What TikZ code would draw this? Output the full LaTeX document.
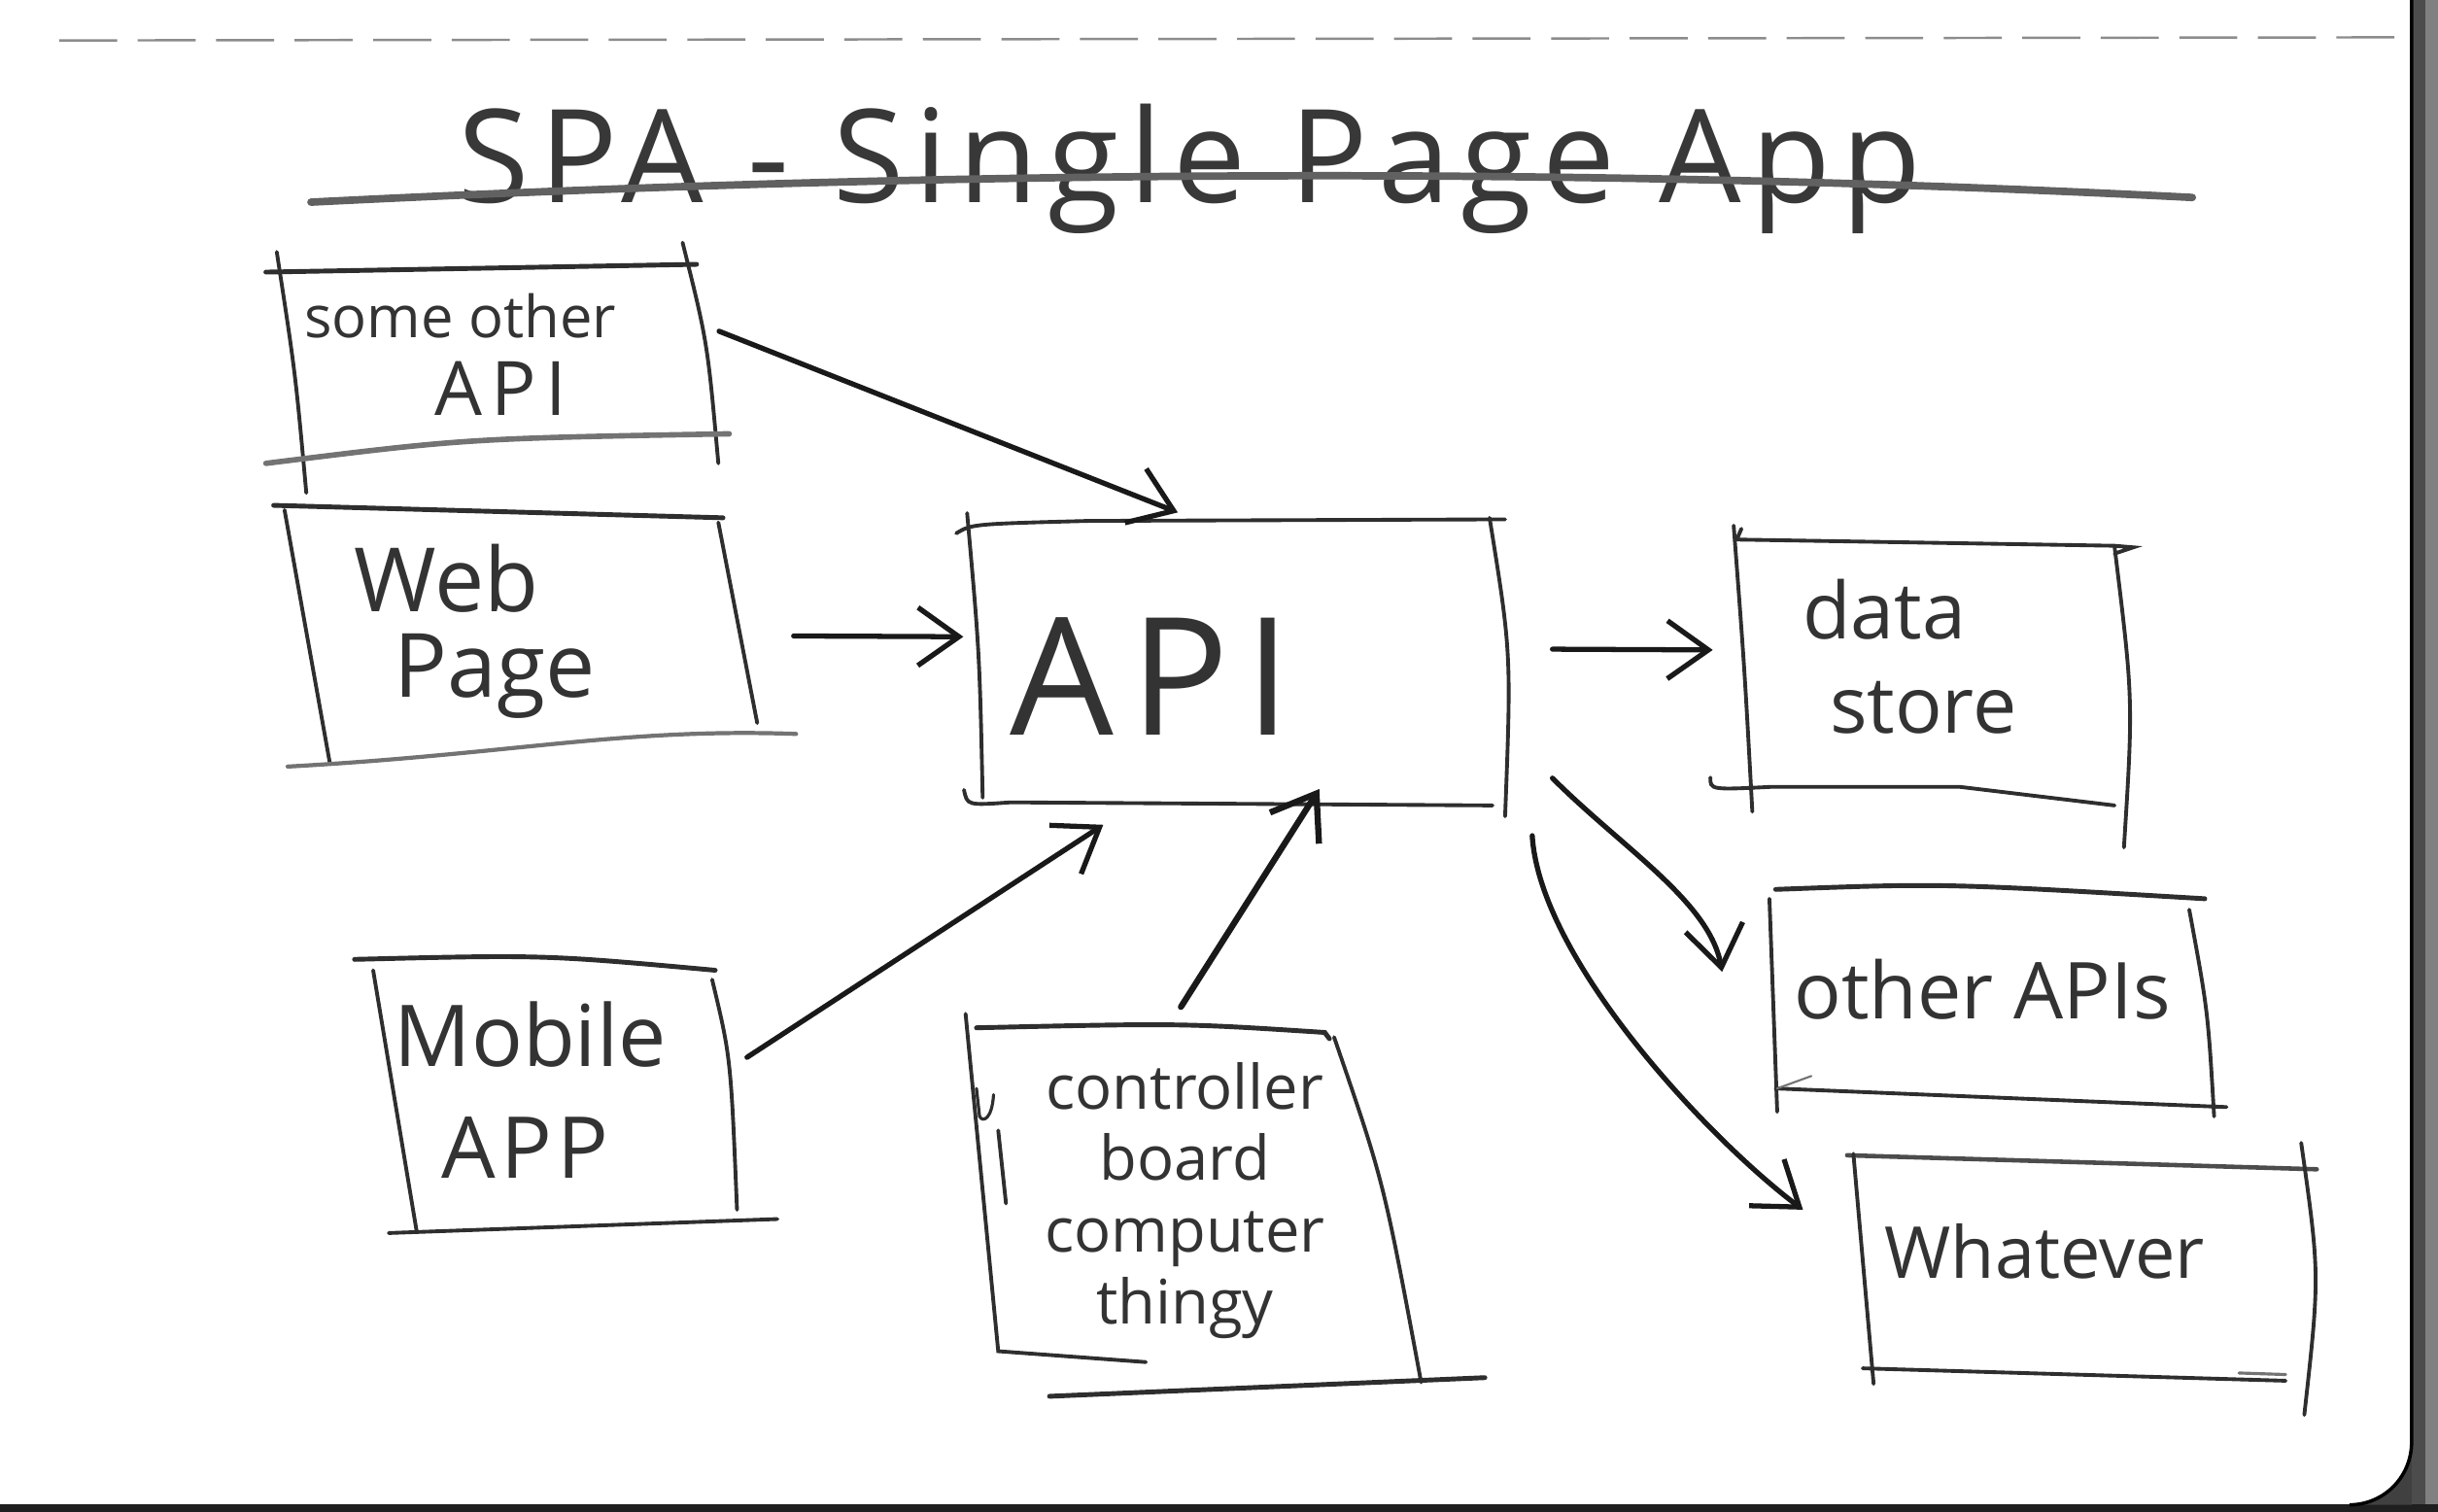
\documentclass[tikz,border=0pt]{standalone}
\usepackage{fontspec}
\setmainfont{Open Sans}
\usetikzlibrary{arrows.meta,calc,fit}
\begin{document}
\begin{tikzpicture}[x=0.016cm,y=-0.016cm,
  bline/.style={line width=1.1pt, draw=black!82, line cap=round},
  gline/.style={line width=1.2pt, draw=black!55, line cap=round},
  arr/.style={line width=1.5pt, draw=black!90, line cap=round, -{Straight Barb[length=12pt,width=17pt]}},
  holder/.style={inner sep=0pt, draw=none},
  lbl/.style={text=black!80, inner sep=0pt, align=center},
]
\useasboundingbox (0,0) rectangle (1568,972);
% notebook page and its edge
\fill[white] (-2,-2) rectangle (1570,974);
\fill[black!70] (1551,-2) rectangle (1560,974);
\fill[black!50] (1560,-2) rectangle (1570,974);
\fill[black!88] (-2,967.5) rectangle (1570,974);
\fill[black!75] (1511,967.8) .. controls (1533,967.8) and (1551,950) .. (1551,927.5) -- (1551,967.8) -- cycle;
\draw[black, line width=1pt] (1551,-2) -- (1551,927.5) .. controls (1551,950) and (1533,967.8) .. (1511,967.8);
\draw[black!45, line width=0.7pt, dash pattern=on 17pt off 6pt] (38,26) -- (1545,24);

% title
\node[lbl, anchor=base, text=black!78, font=\fontsize{38pt}{40pt}\selectfont\addfontfeature{LetterSpace=8}] (title) at (765,130) {SPA - Single Page App};
\draw[gline, line width=2.2pt, draw=black!62] (200,130) .. controls (600,110) and (1000,106) .. (1410,127);

% box holders
\node[holder, fit={(180,170) (462,298)}] (soa) {};
\node[holder, fit={(185,328) (485,490)}] (web) {};
\node[holder, fit={(622,335) (965,516)}] (api) {};
\node[holder, fit={(1117,345) (1368,515)}] (data) {};
\node[holder, fit={(1140,574) (1422,712)}] (other) {};
\node[holder, fit={(1195,745) (1485,885)}] (what) {};
\node[holder, fit={(245,622) (470,790)}] (mob) {};
\node[holder, fit={(630,660) (885,880)}] (ctrl) {};

% some other API box
\draw[bline, line width=1.4pt] (171,175) -- (448,170);
\draw[bline] (178,162) .. controls (190,240) .. (197,317);
\draw[bline] (439,156) .. controls (455,220) .. (462,298);
\draw[gline, line width=1.6pt] (171,298) .. controls (300,282) .. (469,279);
% web page box
\draw[bline, line width=1.4pt] (176,325) -- (465,333);
\draw[bline] (183,328) -- (212,490);
\draw[bline] (462,336) -- (487,465);
\draw[gline] (185,493) .. controls (330,485) and (400,468) .. (512,472);
% API box
\draw[bline] (615,343) .. controls (625,337) .. (700,335) -- (968,334);
\draw[bline] (622,330) .. controls (630,420) .. (632,513);
\draw[bline] (958,333) .. controls (972,420) .. (968,525);
\draw[bline] (620,508) .. controls (622,518) .. (650,516) -- (960,518);
% data store box
\draw[bline] (1120,340) -- (1117,347) -- (1360,351) -- (1372,352) -- (1360,356);
\draw[bline] (1115,338) .. controls (1122,430) .. (1127,522);
\draw[bline] (1360,352) .. controls (1372,450) .. (1366,545);
\draw[bline] (1100,500) .. controls (1100,508) .. (1140,506) -- (1260,506) -- (1360,518);
% other APIs box
\draw[bline, line width=1.4pt] (1142,572) .. controls (1250,568) .. (1418,578);
\draw[bline] (1138,578) -- (1143,715);
\draw[bline] (1408,585) .. controls (1420,650) .. (1424,718);
\draw[bline] (1142,700) -- (1432,712);
\draw[gline, line width=0.6pt] (1143,700) -- (1165,692);
% whatever box
\draw[bline, line width=1.3pt, draw=black!70] (1188,743) -- (1490,752);
\draw[bline] (1192,742) -- (1205,890);
\draw[bline] (1480,735) .. controls (1492,820) .. (1482,910);
\draw[bline] (1198,880) -- (1470,888);
\draw[gline, line width=0.9pt] (1440,883) -- (1470,884);
% mobile app box
\draw[bline, line width=1.4pt] (228,617) .. controls (350,614) .. (460,624);
\draw[bline] (240,624) -- (268,792);
\draw[bline] (458,630) .. controls (470,680) .. (474,778);
\draw[bline] (250,793) -- (500,784);
% controller box
\draw[bline, line width=1.4pt] (628,661) .. controls (760,658) .. (852,664) -- (855,668);
\draw[bline] (621,652) -- (642,869) -- (737,876);
\draw[bline] (858,667) .. controls (890,760) .. (914,889);
\draw[bline, line width=1.4pt] (675,898) -- (955,886);
\draw[bline, line width=0.9pt] (628,700) -- (630,718) .. controls (632,722) and (638,720) .. (639,704);
\draw[bline] (642,727) -- (647,774);

% labels
\node[lbl, font=\fontsize{17pt}{20pt}\selectfont] (soaT1) at (296,203) {some other};
\node[lbl, font=\fontsize{22pt}{24pt}\selectfont\addfontfeature{LetterSpace=12}] (soaT2) at (322,250) {API};
\node[lbl, font=\fontsize{26pt}{28pt}\selectfont] (webT1) at (287,372) {Web};
\node[lbl, font=\fontsize{26pt}{28pt}\selectfont] (webT2) at (318,435) {Page};
\node[lbl, font=\fontsize{48pt}{50pt}\selectfont\addfontfeature{LetterSpace=10}] (apiT) at (740,435) {API};
\node[lbl, font=\fontsize{23pt}{25pt}\selectfont] (dataT1) at (1212,392) {data};
\node[lbl, font=\fontsize{23pt}{25pt}\selectfont] (dataT2) at (1237,455) {store};
\node[lbl, font=\fontsize{23pt}{25pt}\selectfont] (otherT) at (1275,636) {other APIs};
\node[lbl, font=\fontsize{21pt}{23pt}\selectfont] (whatT) at (1315,805) {Whatever};
\node[lbl, font=\fontsize{25pt}{28pt}\selectfont] (mobT1) at (341,665) {Mobile};
\node[lbl, font=\fontsize{25pt}{28pt}\selectfont\addfontfeature{LetterSpace=6}] (mobT2) at (338,738) {APP};
\node[lbl, font=\fontsize{18pt}{21pt}\selectfont] (ctrlT) at (762,772) {controller\\board\\computer\\thingy};

% connectors
\draw[arr] ($(soa.east)+(0,-21)$) -- ($(api.north)+(-36,-5)$);
\draw[arr] ($(web.east)+(25,0)$) -- ($(api.west)+(-2,-16)$);
\draw[arr] ($(api.east)+(33,-8)$) -- ($(data.west)+(-15,-12)$);
\draw[arr] ($(api.south east)+(33,-16)$) .. controls +(45,45) and +(-8,-45) .. ($(other.west)+(-32,-18)$);
\draw[arr] ($(api.south east)+(20,21)$) .. controls +(5,80) and +(-60,-45) .. ($(what.west)+(-35,-37)$);
\draw[arr] ($(mob.east)+(10,-26)$) -- ($(api.south west)+(88,14)$);
\draw[arr, line width=1.8pt] ($(ctrl.north)+(2,-12)$) -- ($(api.south)+(55,-9)$);
\end{tikzpicture}
\end{document}
